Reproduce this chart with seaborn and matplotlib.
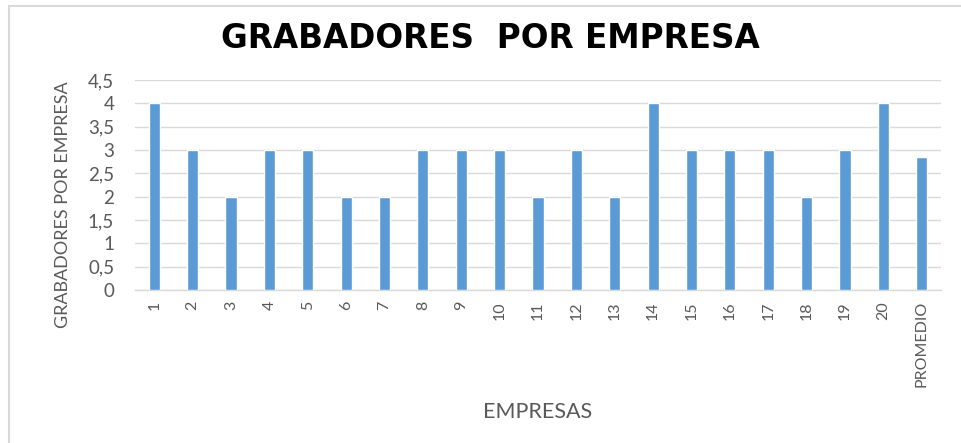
import pandas as pd
import matplotlib.pyplot as plt
import seaborn as sns
from matplotlib.patches import Rectangle

# Datos del gráfico
empresas = [str(i) for i in range(1, 21)] + ['PROMEDIO']
grabadores = [4, 3, 2, 3, 3, 2, 2, 3, 3, 3, 2, 3, 2, 4, 3, 3, 3, 2, 3, 4, 2.85]
ticks_y = [0, 0.5, 1, 1.5, 2, 2.5, 3, 3.5, 4, 4.5]
etiquetas_y = ['0', '0,5', '1', '1,5', '2', '2,5', '3', '3,5', '4', '4,5']

df = pd.DataFrame({'Empresa': empresas, 'Grabadores': grabadores})

sns.set_style('white')
plt.rcParams['font.family'] = ['Lato', 'DejaVu Sans']

gris = '#595959'
fig = plt.figure(figsize=(9.61, 4.43), dpi=100)
ax = fig.add_axes([135 / 961, 1 - 290 / 443, (941 - 135) / 961, (290 - 80) / 443])

sns.barplot(data=df, x='Empresa', y='Grabadores', color='#5B9BD5',
            saturation=1, width=0.29, ax=ax, zorder=3)

ax.set_xlim(-0.5, len(empresas) - 0.5)
ax.set_ylim(0, 4.5)
ax.set_yticks(ticks_y)
ax.set_yticklabels(etiquetas_y)
ax.yaxis.grid(True, color='#d9d9d9', linewidth=1, zorder=0)
ax.tick_params(axis='y', length=0, labelsize=13.5, labelcolor=gris, pad=15)
ax.tick_params(axis='x', length=0, labelsize=11.5, labelcolor=gris, pad=8,
               labelrotation=90)
for lado in ['top', 'right', 'left']:
    ax.spines[lado].set_visible(False)
ax.spines['bottom'].set_color('#d9d9d9')
ax.spines['bottom'].set_linewidth(1)

ax.set_xlabel('EMPRESAS', fontsize=15.5, color=gris)
ax.xaxis.set_label_coords((538 - 135) / 806, (290 - 402) / 210)
ax.set_ylabel('GRABADORES POR EMPRESA', fontsize=13, color=gris)
ax.yaxis.set_label_coords((71 - 135) / 806, (290 - 205) / 210)

fig.text(490 / 961, 1 - 39 / 443, 'GRABADORES  POR EMPRESA', ha='center',
         va='center', fontsize=23.5, fontweight='bold', color='black',
         family=['DejaVu Sans'])

# borde del área del gráfico
fig.patches.append(Rectangle((9 / 961, -0.05), 1.1, 1 - 6 / 443 + 0.05,
                             transform=fig.transFigure, fill=False,
                             edgecolor='#d9d9d9', linewidth=1.5))

fig.savefig('out.png', dpi=100)
